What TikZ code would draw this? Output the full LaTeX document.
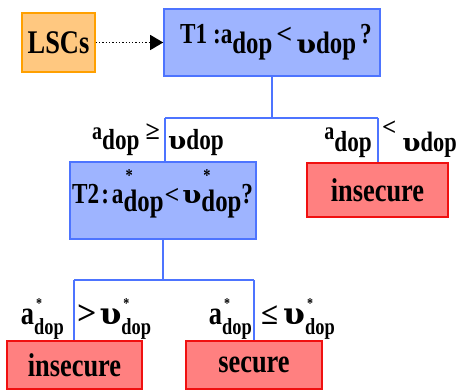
\documentclass[tikz,border=0pt]{standalone}
\usepackage{fontspec}
\usepackage{graphicx}
\setmainfont[FakeStretch=0.8]{Liberation Serif}
\newfontfamily\symf{Liberation Serif}
\newfontfamily\upsf{DejaVu Serif}
\usetikzlibrary{arrows.meta}
\definecolor{qfill}{HTML}{9EB4FF}
\definecolor{qdraw}{HTML}{4D74FF}
\definecolor{rfill}{HTML}{FF8080}
\definecolor{rdraw}{HTML}{F01010}
\definecolor{ofill}{HTML}{FFC880}
\definecolor{odraw}{HTML}{FFA000}
\newcommand\fs[1]{\fontsize{#1}{#1}\selectfont}
\newcommand\lo[3]{\raisebox{-#2pt}{\fs{#1}#3}}
\newcommand\sd[4]{\rlap{\hspace{2pt}\raisebox{#3pt}{\fs{#4}*}}\raisebox{-#2pt}{\fs{#1}dop}}
\newcommand\U[2]{\scalebox{#2}[1.0]{\upsf\bfseries\fs{#1}υ}}
\newcommand\Sy[2]{{\symf\bfseries\fs{#1}#2}}
\tikzset{
  qbox/.style={draw=qdraw, fill=qfill, line width=1.6pt, inner sep=0pt},
  rbox/.style={draw=rdraw, fill=rfill, line width=1.6pt, inner sep=0pt, font=\bfseries\fs{33}},
  obox/.style={draw=odraw, fill=ofill, line width=1.6pt, inner sep=0pt, font=\bfseries\fs{33}},
  txt/.style={inner sep=0pt, font=\bfseries},
  link/.style={draw=qdraw, line width=1.8pt},
}
\begin{document}
\begin{tikzpicture}[x=1pt,y=-1pt]
\useasboundingbox (0,0) rectangle (460,390);
% boxes
\node[obox, minimum width=73pt, minimum height=59pt] (lsc) at (58.5,42.5) {LSCs};
\node[qbox, minimum width=216pt, minimum height=67pt] (t1) at (272,42.5) {};
\node[qbox, minimum width=186pt, minimum height=77pt] (t2) at (163,200.5) {};
\node[rbox, minimum width=141pt, minimum height=54pt] (ins1) at (377.5,190) {insecure};
\node[rbox, minimum width=135pt, minimum height=48pt] (ins2) at (74.5,365) {insecure};
\node[rbox, minimum width=136pt, minimum height=48pt] (sec) at (254,365) {secure};
% box texts
\node[txt, anchor=base west] (t1txt) at (180,44)
  {\fs{29}T1 :a\lo{31}{10}{dop}\hspace{4pt}\Sy{28}{<}\hspace{4pt}\lo{31}{10}{\U{26}{1.1}dop}\hspace{4pt}?};
\node[txt, anchor=base west] (t2txt) at (72,203)
  {\fs{29}T2\hspace{2pt}:\hspace{3pt}a\sd{31}{9}{21}{18}\hspace{1pt}\Sy{26}{<}\hspace{3pt}\U{25}{1.1}\sd{31}{9}{21}{18}?};
% arrow
\draw[dotted, line width=1.3pt, -{Triangle[length=13pt,width=15pt]}] (lsc.east) -- (t1.west);
% connectors
\coordinate (j1) at (272,118);
\coordinate (j1l) at (165,118);
\coordinate (j1r) at (378,118);
\draw[link] (t1.south) -- (j1);
\draw[link] (j1l) -- (j1r);
\draw[link] (j1l) -- (j1l |- t2.north);
\draw[link] (j1r) -- (j1r |- ins1.north);
\coordinate (j2) at (163,280);
\coordinate (j2l) at (74,280);
\coordinate (j2r) at (254,280);
\draw[link] (t2.south) -- (j2);
\draw[link] (j2l) -- (j2r);
\draw[link] (j2l) -- (j2l |- ins2.north);
\draw[link] (j2r) -- (j2r |- sec.north);
% branch labels
\node[txt, anchor=base east] (l1a) at (160,140) {\fs{25}a\lo{29}{10}{dop}\hspace{6pt}\Sy{26}{≥}};
\node[txt, anchor=base west] (l1b) at (168,150) {\U{25}{1.05}\fs{29}dop};
\node[txt, anchor=base east] (l2a) at (372,140) {\fs{25}a\lo{29}{12}{dop}};
\node[txt, anchor=base west] (l2b) at (382,152) {\raisebox{16pt}{\Sy{25}{<}}\hspace{6pt}\U{25}{1.05}\fs{28}dop};
\node[txt, anchor=base east] (l3a) at (64,324) {\fs{33}a\sd{23}{10}{16}{15}};
\node[txt, anchor=base west] (l3b) at (77,324) {\Sy{34}{>}\hspace{3pt}\U{30}{1.05}\sd{23}{10}{16}{15}};
\node[txt, anchor=base east] (l4a) at (252,324) {\fs{33}a\sd{23}{10}{16}{15}};
\node[txt, anchor=base west] (l4b) at (261,324) {\Sy{31}{≤}\hspace{5pt}\U{30}{1.05}\sd{23}{10}{16}{15}};
\end{tikzpicture}
\end{document}
